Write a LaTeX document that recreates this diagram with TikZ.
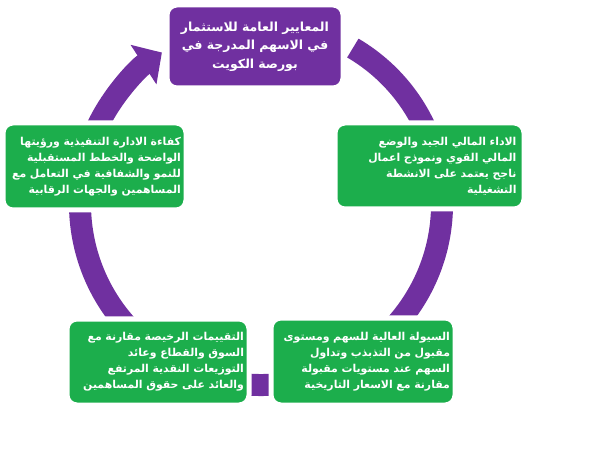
\documentclass[tikz,border=0pt]{standalone}
\usepackage{fontspec}
\usetikzlibrary{arrows.meta}
\newfontfamily\arabicfont[Script=Arabic]{DejaVu Sans}
\TeXXeTstate=1
\newcommand{\arline}[1]{\mbox{\beginR #1\endR}}
\definecolor{cyclepurple}{RGB}{112,48,160}
\definecolor{cyclegreen}{RGB}{28,174,76}

\begin{document}
\begin{tikzpicture}[x=1pt,y=1pt,
    ring/.style={draw=cyclepurple, line width=22pt},
    gbox/.style={rectangle, rounded corners=10pt, fill=cyclegreen, draw=white,
      line width=5pt, text=white, align=right, inner xsep=5pt,
      font=\arabicfont\bfseries\fontsize{10.9}{16}\selectfont},
    pbox/.style={gbox, fill=cyclepurple, align=center,
      font=\arabicfont\bfseries\fontsize{12.5}{18.5}\selectfont}]
  \useasboundingbox (0,0) rectangle (602,450);
  \coordinate (hub) at (261,246);

  \draw[ring, -{Triangle[length=22pt, width=46pt]}]
    ([shift={(59.5:181)}]hub) arc[start angle=59.5, end angle=-236.8, radius=181];

  \node[pbox, minimum width=176, minimum height=83, text width=164] (crit) at (255,403.5)
    {\arline{المعايير العامة للاستثمار}\\ \arline{في الاسهم المدرجة في}\\ \arline{بورصة الكويت}};
  \node[gbox, minimum width=189, minimum height=86, text width=174] (perf) at (429.5,284)
    {\arline{الاداء المالي الجيد والوضع}\\ \arline{المالي القوي ونموذج اعمال}\\ \arline{ناجح يعتمد على الانشطة}\\ \arline{التشغيلية}};
  \node[gbox, minimum width=183, minimum height=87, text width=173] (mgmt) at (94.5,283.5)
    {\arline{كفاءة الادارة التنفيذية ورؤيتها}\\ \arline{الواضحة والخطط المستقبلية}\\ \arline{للنمو والشفافية في التعامل مع}\\ \arline{المساهمين والجهات الرقابية}};
  \node[gbox, minimum width=182, minimum height=86, text width=172] (val) at (158,88)
    {\arline{التقييمات الرخيصة مقارنة مع}\\ \arline{السوق والقطاع وعائد}\\ \arline{التوزيعات النقدية المرتفع}\\ \arline{والعائد على حقوق المساهمين}};
  \node[gbox, minimum width=184, minimum height=87, text width=174] (liq) at (363,88.5)
    {\arline{السيولة العالية للسهم ومستوى}\\ \arline{مقبول من التذبذب وتداول}\\ \arline{السهم عند مستويات مقبولة}\\ \arline{مقارنة مع الاسعار التاريخية}};
\end{tikzpicture}
\end{document}
